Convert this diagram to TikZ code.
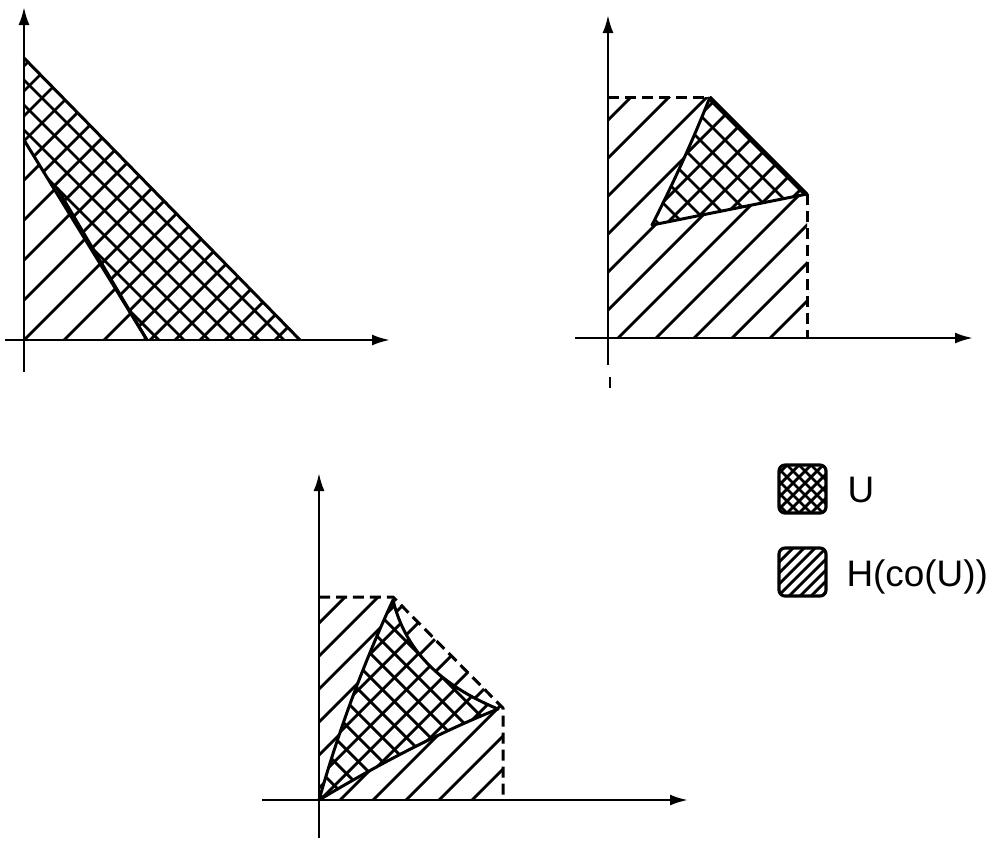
\documentclass[tikz,border=0pt]{standalone}
\usepackage{fontspec}
\setmainfont{Liberation Sans}
\usetikzlibrary{arrows.meta}

\begin{document}
\begin{tikzpicture}[x=0.02cm, y=-0.02cm, line width=1.7pt, line join=round,
  axis/.style={line width=1.4pt, -{Latex[length=0.36cm, width=0.22cm]}},
  hatch/.style={line width=1.6pt},
  dashedge/.style={dash pattern=on 0.22cm off 0.12cm},
  legendbox/.style={line width=1.8pt, rounded corners=0.12cm},
  legendtext/.style={anchor=base west, inner sep=0pt, font=\fontsize{21}{24}\selectfont}]
  \useasboundingbox (0,0) rectangle (989,840);

  % 图一：三角形
  \coordinate (O1) at (24,340);
  \coordinate (A1) at (24,58);
  \coordinate (B1) at (300,340);
  \coordinate (C1) at (24,140);
  \coordinate (D1) at (57,188);
  \coordinate (E1) at (147,340);
  \begin{scope}
    \clip (O1) -- (A1) -- (B1) -- cycle;
    \foreach \c in {164,204,...,644} \draw[hatch] (\c-900,900) -- (\c,0);
  \end{scope}
  \fill[white] (A1) -- (B1) -- (E1) -- (C1) -- cycle;
  \begin{scope}
    \clip (A1) -- (B1) -- (E1) -- (C1) -- cycle;
    \foreach \c in {90,115,...,640} \draw[hatch] (\c-900,900) -- (\c,0);
    \foreach \c in {-306,-281,...,-30} \draw[hatch] (\c,0) -- (\c+900,900);
  \end{scope}
  \draw (A1) -- (B1);
  \draw (C1) -- (E1);
  \draw (D1) -- (E1);
  \draw[axis] (24,372) -- (24,7);
  \draw[axis] (5,340) -- (390,340);

  % 图二：矩形与三角形 U
  \coordinate (O2) at (608,338);
  \coordinate (P2) at (608,97);
  \coordinate (A2) at (710,97);
  \coordinate (B2) at (807,194);
  \coordinate (Q2) at (807,338);
  \coordinate (C2) at (652,225);
  \begin{scope}
    \clip (O2) -- (P2) -- (A2) -- (B2) -- (Q2) -- cycle;
    \foreach \c in {728,766,...,1146} \draw[hatch] (\c-900,900) -- (\c,0);
  \end{scope}
  \fill[white] (A2) -- (B2) -- (C2) .. controls (675,180) and (695,135) .. (A2);
  \begin{scope}
    \clip (A2) -- (B2) -- (C2) .. controls (675,180) and (695,135) .. (A2);
    \foreach \c in {815,840,...,1000} \draw[hatch] (\c-900,900) -- (\c,0);
    \foreach \c in {435,460,...,612} \draw[hatch] (\c,0) -- (\c+900,900);
  \end{scope}
  \draw[dashedge] (P2) -- (A2);
  \draw (A2) -- (B2) -- (C2) .. controls (675,180) and (695,135) .. (A2);
  \draw[dashedge] (B2) -- (Q2);
  \draw[axis] (608,365) -- (608,15);
  \draw[line width=1pt] (610,377) -- (610,388);
  \draw[axis] (575,338) -- (973,338);

  % 图三：曲边 U
  \coordinate (O3) at (319,800);
  \coordinate (P3) at (319,597);
  \coordinate (A3) at (393,597);
  \coordinate (B3) at (503,708);
  \coordinate (Q3) at (503,800);
  \coordinate (T3) at (393,600);
  \coordinate (R3) at (498,709);
  \begin{scope}
    \clip (O3) -- (P3) -- (A3) -- (B3) -- (Q3) -- cycle;
    \foreach \c in {942,975,...,1300} \draw[hatch] (\c-900,900) -- (\c,0);
  \end{scope}
  \fill[white] (O3) .. controls (338,733) and (362,667) .. (T3)
    .. controls (405,650) and (440,685) .. (R3)
    .. controls (438,733) and (379,764) .. (O3);
  \begin{scope}
    \clip (O3) .. controls (338,733) and (362,667) .. (T3)
      .. controls (405,650) and (440,685) .. (R3)
      .. controls (438,733) and (379,764) .. (O3);
    \foreach \c in {1000,1024,...,1206} \draw[hatch] (\c-900,900) -- (\c,0);
    \foreach \c in {-475,-451,...,-210} \draw[hatch] (\c,0) -- (\c+900,900);
  \end{scope}
  \draw (O3) .. controls (338,733) and (362,667) .. (T3)
    .. controls (405,650) and (440,685) .. (R3)
    .. controls (438,733) and (379,764) .. (O3);
  \draw[dashedge] (P3) -- (A3) -- (B3) -- (Q3);
  \draw[axis] (319,838) -- (319,473);
  \draw[axis] (262,800) -- (688,800);

  % 图例
  \begin{scope}
    \clip[rounded corners=0.12cm] (779,465) rectangle (826,513);
    \foreach \c in {1240,1252,...,1340} \draw[hatch] (\c-900,900) -- (\c,0);
    \foreach \c in {262,274,...,364} \draw[hatch] (\c,0) -- (\c+900,900);
  \end{scope}
  \draw[legendbox] (779,465) rectangle (826,513);
  \begin{scope}
    \clip[rounded corners=0.12cm] (779,548) rectangle (826,596);
    \foreach \c in {1330,1341,...,1422} \draw[hatch] (\c-900,900) -- (\c,0);
  \end{scope}
  \draw[legendbox] (779,548) rectangle (826,596);
  \node[legendtext] (lgU) at (846,502) {U};
  \node[legendtext] (lgH) at (845,586) {H(co(U))};
\end{tikzpicture}
\end{document}
